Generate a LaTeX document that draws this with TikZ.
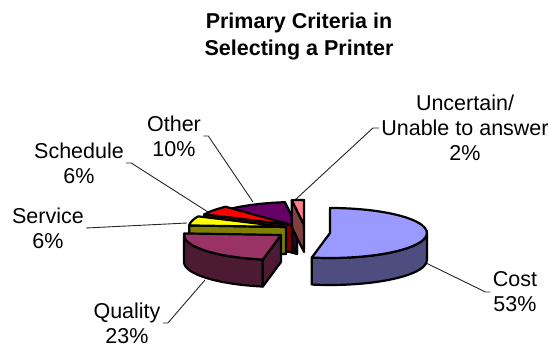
\documentclass[tikz,border=0pt]{standalone}
\usepackage{fontspec}
\setmainfont{Liberation Sans}
\usetikzlibrary{calc}
\definecolor{costtop}{HTML}{9999FF}
\definecolor{costside}{HTML}{4D4D80}
\definecolor{qualtop}{HTML}{993366}
\definecolor{qualside}{HTML}{4D1A33}
\definecolor{servtop}{HTML}{FFFF00}
\definecolor{servside}{HTML}{808000}
\definecolor{schedtop}{HTML}{FF0000}
\definecolor{schedside}{HTML}{800000}
\definecolor{othertop}{HTML}{660066}
\definecolor{otherside}{HTML}{330033}
\definecolor{unctop}{HTML}{FF8080}
\definecolor{uncside}{HTML}{804040}
\begin{document}
\begin{tikzpicture}[x=0.5pt,y=0.5pt,
    face/.style={draw=black,line width=1.1pt,line join=round},
    leader/.style={draw=black!85,line width=0.45pt},
    lbl/.style={align=center,inner sep=1pt,font=\fontsize{10.75}{12.5}\selectfont}]
  \useasboundingbox (0,0) rectangle (548,349);
  \def\rx{97}
  \def\ry{25}
  \def\h{27}
  % slice centres (exploded)
  \coordinate (Cost) at (330,116);
  \coordinate (Qual) at (281,114);
  \coordinate (Serv) at (286,122);
  \coordinate (Sched) at (292,124);
  \coordinate (Other) at (297,122);
  \coordinate (Unc) at (304,124);

  % TITLE
  \node[lbl,font=\bfseries\fontsize{10.75}{13.5}\selectfont] (title) at (299,313)
    {Primary Criteria in\\Selecting a Printer};

  % LABELS
  \node[lbl] (costlbl) at (515,57) {Cost\\53\%};
  \node[lbl] (quallbl) at (127,26) {Quality\\23\%};
  \node[lbl] (servlbl) at (48,121) {Service\\6\%};
  \node[lbl] (schedlbl) at (79,186) {Schedule\\6\%};
  \node[lbl] (otherlbl) at (174,213) {Other\\10\%};
  \node[lbl] (unclbl) at (465,221) {Uncertain/\\Unable to answer\\2\%};

  % LEADERS
  \coordinate (costpt) at (426,86);
  \coordinate (qualpt) at (205,69);
  \coordinate (servpt) at (187,126);
  \coordinate (schedpt) at (208,137);
  \coordinate (otherpt) at (253,147);
  \coordinate (uncpt) at (295,149);
  \draw[leader] (costlbl.west) -- ++(-5,0) -- (costpt);
  \draw[leader] (quallbl.east) -- ++(5,0) -- (qualpt);
  \draw[leader] (servlbl.east) -- (servpt);
  \draw[leader] (schedlbl.east) -- ++(5,0) -- (schedpt);
  \draw[leader] (otherlbl.east) -- ++(5,0) -- (otherpt);
  \draw[leader] (unclbl.west) -- ++(-6,0) -- (uncpt);

  % OTHER 97.2 -- 133.2
  \draw[face,fill=otherside] (Other) -- ++({\rx*cos(133.2)},{\ry*sin(133.2)}) -- ++(0,-\h) -- ($(Other)+(0,-\h)$) -- cycle;
  \draw[face,fill=otherside] (Other) -- ++({\rx*cos(97.2)},{\ry*sin(97.2)}) -- ++(0,-\h) -- ($(Other)+(0,-\h)$) -- cycle;
  \draw[face,fill=othertop] (Other) -- ++({\rx*cos(97.2)},{\ry*sin(97.2)})
    arc[start angle=97.2,end angle=133.2,x radius=\rx,y radius=\ry] -- cycle;

  % UNCERTAIN 90 -- 97.2
  \draw[face,fill=uncside] (Unc) -- ++({\rx*cos(97.2)},{\ry*sin(97.2)}) -- ++(0,-\h) -- ($(Unc)+(0,-\h)$) -- cycle;
  \draw[face,fill=unctop] (Unc) -- ++(0,\ry)
    arc[start angle=90,end angle=97.2,x radius=\rx,y radius=\ry] -- cycle;

  % SCHEDULE 133.2 -- 154.8
  \draw[face,fill=schedside] (Sched) -- ++({\rx*cos(154.8)},{\ry*sin(154.8)}) -- ++(0,-\h) -- ($(Sched)+(0,-\h)$) -- cycle;
  \draw[face,fill=schedtop] (Sched) -- ++({\rx*cos(133.2)},{\ry*sin(133.2)})
    arc[start angle=133.2,end angle=154.8,x radius=\rx,y radius=\ry] -- cycle;

  % SERVICE 154.8 -- 176.4
  \draw[face,fill=servside] (Serv) -- ++({\rx*cos(176.4)},{\ry*sin(176.4)}) -- ++(0,-\h) -- ($(Serv)+(0,-\h)$) -- cycle;
  \draw[face,fill=servtop] (Serv) -- ++({\rx*cos(154.8)},{\ry*sin(154.8)})
    arc[start angle=154.8,end angle=176.4,x radius=\rx,y radius=\ry] -- cycle;

  % QUALITY 176.4 -- 259.2
  \draw[face,fill=qualside] ($(Qual)+(-\rx,0)$)
    arc[start angle=180,end angle=259.2,x radius=\rx,y radius=\ry] -- ++(0,-\h)
    arc[start angle=259.2,end angle=180,x radius=\rx,y radius=\ry] -- cycle;
  \draw[face,fill=qualside] (Qual) -- ++({\rx*cos(259.2)},{\ry*sin(259.2)}) -- ++(0,-\h) -- ($(Qual)+(0,-\h)$) -- cycle;
  \draw[face,fill=qualtop] (Qual) -- ++({\rx*cos(176.4)},{\ry*sin(176.4)})
    arc[start angle=176.4,end angle=259.2,x radius=\rx,y radius=\ry] -- cycle;

  % COST -100.8 -- 90
  \draw[face,fill=costside] ($(Cost)+({\rx*cos(-100.8)},{\ry*sin(-100.8)})$)
    arc[start angle=-100.8,end angle=0,x radius=\rx,y radius=\ry] -- ++(0,-\h)
    arc[start angle=0,end angle=-100.8,x radius=\rx,y radius=\ry] -- cycle;
  \draw[face,fill=costtop] (Cost) -- ++({\rx*cos(-100.8)},{\ry*sin(-100.8)})
    arc[start angle=-100.8,end angle=90,x radius=\rx,y radius=\ry] -- cycle;
\end{tikzpicture}
\end{document}
